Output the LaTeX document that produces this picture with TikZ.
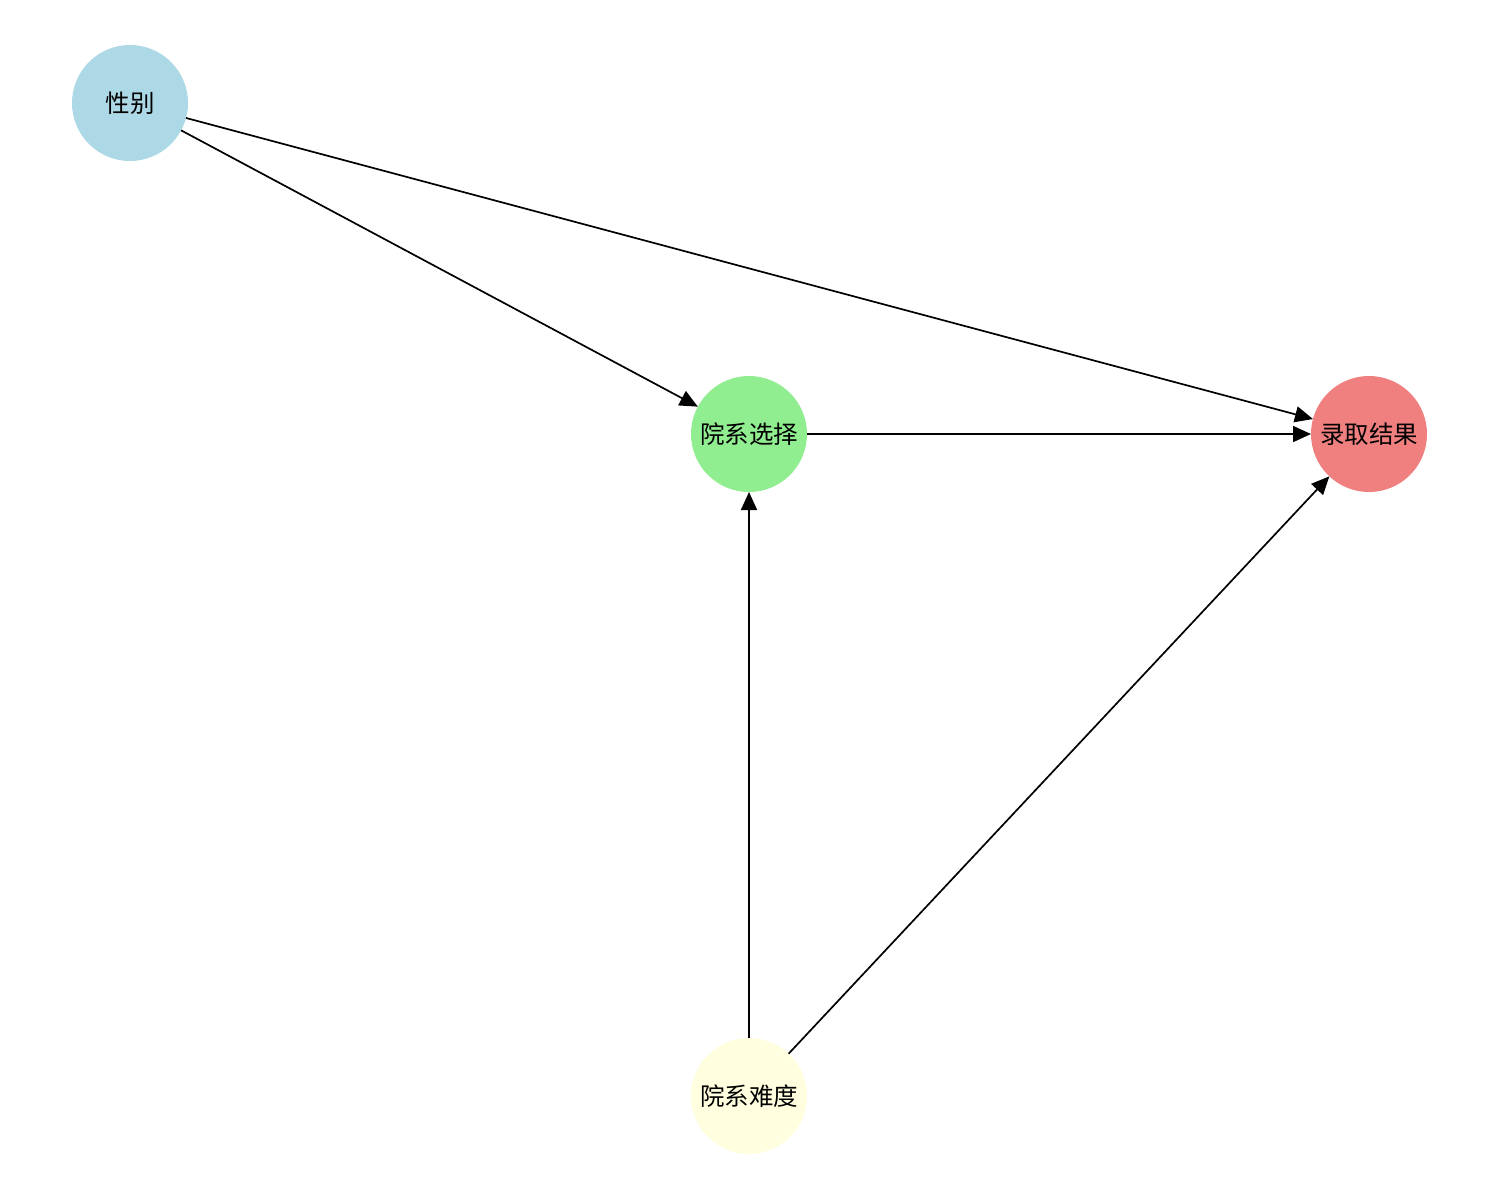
\documentclass[tikz,border=0pt]{standalone}
\usepackage{fontspec}
\newfontfamily\cjk{Noto Sans CJK SC}
\usetikzlibrary{arrows.meta}
\definecolor{nblue}{RGB}{173,216,230}
\definecolor{ngreen}{RGB}{144,238,144}
\definecolor{ncoral}{RGB}{240,128,128}
\definecolor{nyellow}{RGB}{255,255,224}
\tikzset{
  vnode/.style={circle, minimum size=116pt, inner sep=0pt, outer sep=0pt, font=\cjk\fontsize{24.5}{24.5}\selectfont, text=black},
  edge/.style={line width=1.7pt, -{Triangle[length=18pt,width=16pt]}}
}
\begin{document}
\begin{tikzpicture}[x=1pt,y=-1pt]
\useasboundingbox (0,0) rectangle (1500,1200);
\node[vnode, fill=nblue] (g) at (130,103) {性别};
\node[vnode, fill=ngreen] (c) at (749,434) {院系选择};
\node[vnode, fill=ncoral] (a) at (1369,434) {录取结果};
\node[vnode, fill=nyellow] (d) at (749,1096) {院系难度};
\draw[edge] (g) -- (c);
\draw[edge] (g) -- (a);
\draw[edge] (c) -- (a);
\draw[edge] (d) -- (c);
\draw[edge] (d) -- (a);
\end{tikzpicture}
\end{document}
